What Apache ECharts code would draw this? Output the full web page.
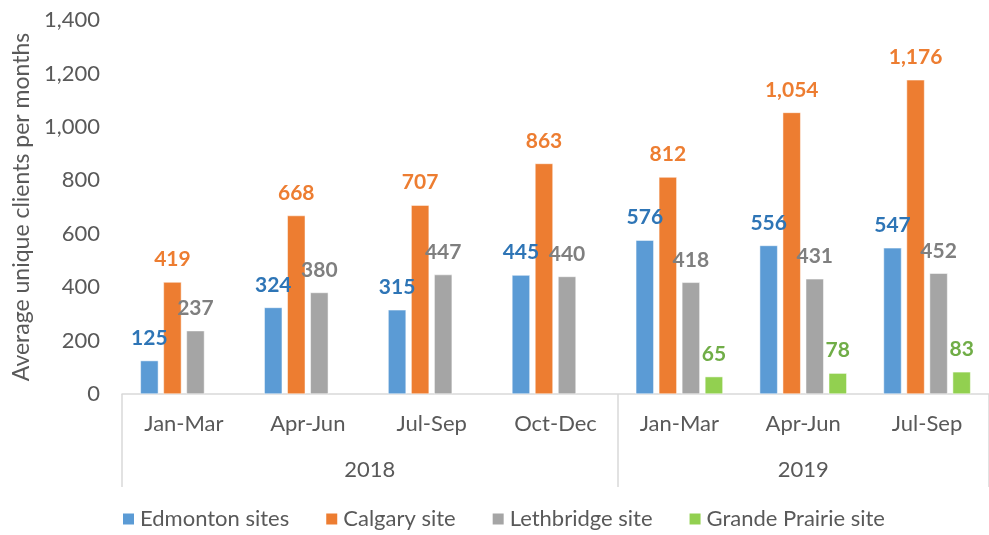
<!DOCTYPE html>
<html>
<head>
<meta charset="utf-8">
<script src="https://cdn.jsdelivr.net/npm/echarts@6/dist/echarts.min.js"></script>
<style>
    html, body { margin: 0; padding: 0; background: #fff; }
    #chart { width: 989px; height: 535px; }
</style>
</head>
<body>
<div id="chart"></div>
<script>
// quarters and the year each one belongs to
var quarters = ['Jan-Mar', 'Apr-Jun', 'Jul-Sep', 'Oct-Dec', 'Jan-Mar', 'Apr-Jun', 'Jul-Sep'];
var quarterYears = ['2018', '2018', '2018', '2018', '2019', '2019', '2019'];

var seriesNames = ['Edmonton sites', 'Calgary site', 'Lethbridge site', 'Grande Prairie site'];
var edmonton = [125, 324, 315, 445, 576, 556, 547];
var calgary = [419, 668, 707, 863, 812, 1054, 1176];
var lethbridge = [237, 380, 447, 440, 418, 431, 452];
var grandePrairie = [null, null, null, null, 65, 78, 83];

var yTicks = [0, 200, 400, 600, 800, 1000, 1200, 1400];

var barColors = ['#5b9bd5', '#ed7d31', '#a5a5a5', '#92d050'];
var labelColors = ['#2e75b6', '#ed7d31', '#7f7f7f', '#70ad47'];
var txt = '#595959';
var font = 'Lato, "Liberation Sans", sans-serif';

// group boundaries / centers for the year level of the axis
var years = [], yearStart = [], yearEnd = [];
quarterYears.forEach(function (y, i) {
    var k = years.indexOf(y);
    if (k < 0) { years.push(y); yearStart.push(i); yearEnd.push(i + 1); }
    else yearEnd[k] = i + 1;
});
var yearBounds = yearStart.concat([quarters.length]);
var yearCenters = years.map(function (y, k) { return (yearStart[k] + yearEnd[k]) / 2; });

var chart = echarts.init(document.getElementById('chart'));

var allData = [edmonton, calgary, lethbridge, grandePrairie];
var series = allData.map(function (d, i) {
    return {
        name: seriesNames[i],
        type: 'bar',
        data: d,
        barWidth: 18,
        barGap: '28%',
        itemStyle: { color: barColors[i], borderColor: '#fff', borderWidth: 0.5 },
        label: {
            show: true,
            position: 'top',
            distance: 12,
            color: labelColors[i],
            fontFamily: font,
            fontWeight: 'bold',
            fontSize: 21,
            formatter: function (p) { return p.value == null ? '' : p.value.toLocaleString('en-US'); }
        }
    };
});

var option = {
    animation: false,
    textStyle: { fontFamily: font },
    grid: { left: 122, right: -7, top: 20, bottom: 141 },
    legend: {
        left: 116,
        bottom: 0,
        itemWidth: 13,
        itemHeight: 13,
        itemGap: 35,
        icon: 'rect',
        data: seriesNames,
        textStyle: { color: txt, fontSize: 22, fontFamily: font }
    },
    xAxis: [{
        type: 'category',
        data: quarters,
        axisLine: { lineStyle: { color: '#d9d9d9', width: 1.5 } },
        axisTick: { show: false },
        axisLabel: { color: txt, fontSize: 22, margin: 19, fontFamily: font }
    }, {
        type: 'value',
        position: 'bottom',
        min: 0,
        max: quarters.length,
        axisLine: { show: false },
        splitLine: { show: false },
        axisTick: {
            show: true,
            customValues: yearBounds,
            length: 93,
            lineStyle: { color: '#d9d9d9', width: 1.5 }
        },
        axisLabel: {
            customValues: yearCenters,
            margin: 65,
            color: txt,
            fontSize: 22,
            fontFamily: font,
            formatter: function (v) {
                var k = yearCenters.indexOf(v);
                return k < 0 ? '' : years[k];
            }
        }
    }],
    yAxis: {
        type: 'value',
        min: yTicks[0],
        max: yTicks[yTicks.length - 1],
        interval: yTicks[1] - yTicks[0],
        name: 'Average unique clients per months',
        nameLocation: 'middle',
        nameGap: 82,
        nameTextStyle: { color: txt, fontSize: 23, fontFamily: font },
        axisLine: { show: false },
        axisTick: { show: false },
        splitLine: { show: false },
        axisLabel: {
            color: txt,
            fontSize: 22,
            margin: 22,
            fontFamily: font,
            formatter: function (v) { return v.toLocaleString('en-US'); }
        }
    },
    series: series
};
chart.setOption(option);
</script>
</body>
</html>
